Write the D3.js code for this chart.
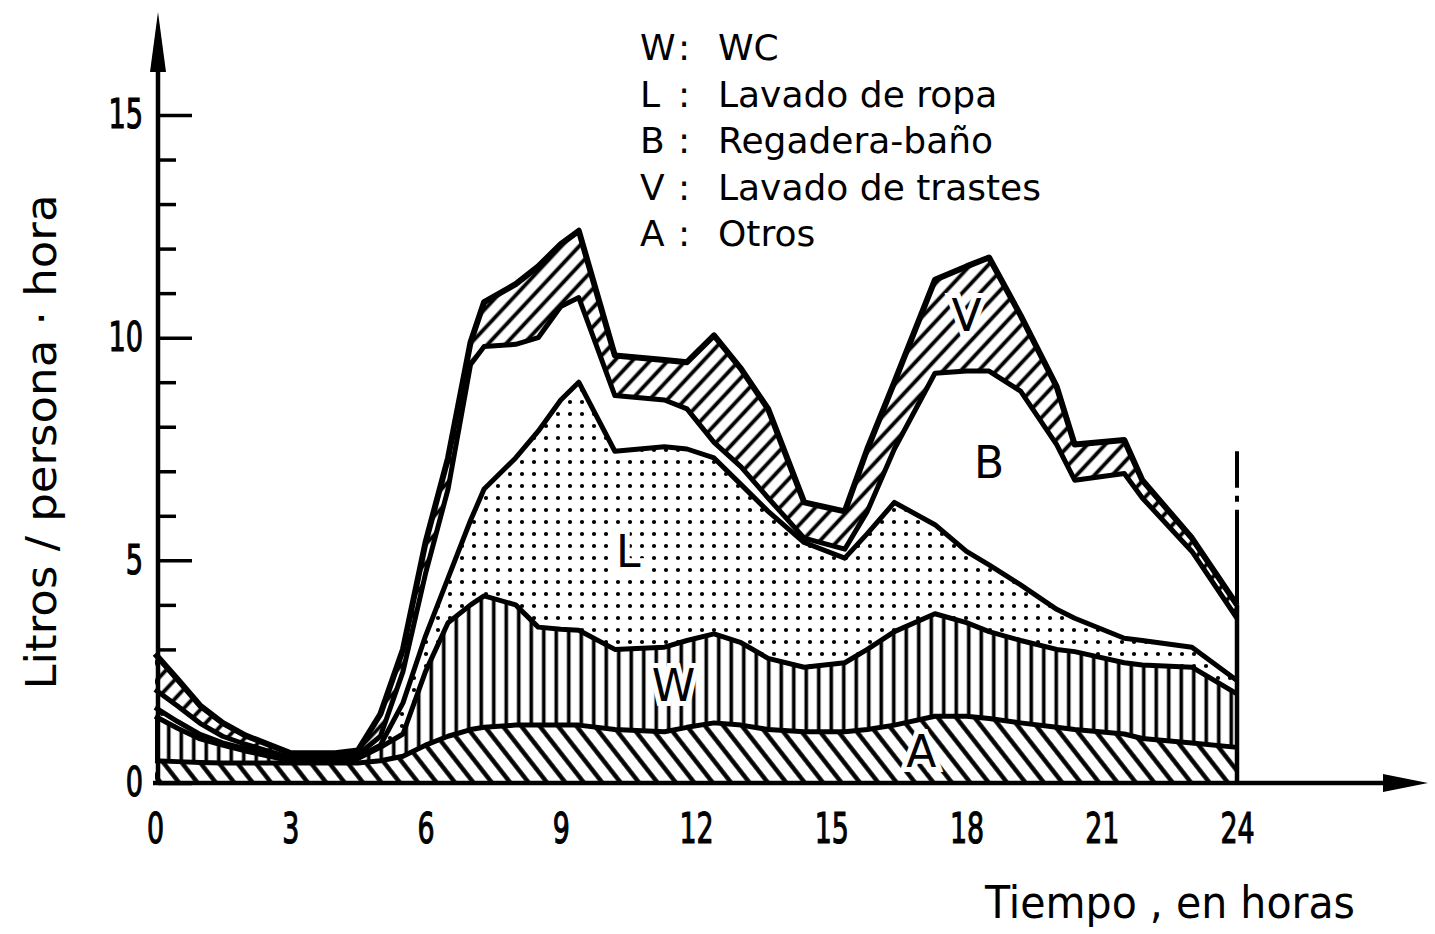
<!DOCTYPE html>
<html>
<head>
<meta charset="utf-8">
<script src="https://cdn.jsdelivr.net/npm/d3@7"></script>
<style>
body{margin:0;background:#fff}
text{font-family:"DejaVu Sans",sans-serif;fill:#000}
</style>
</head>
<body>
<svg width="1435" height="934"></svg>
<script>
/* horas */
const hours = [0,0.5,1,1.5,2,3,4,4.5,5,5.5,6,6.5,7,7.3,8,8.5,9,9.4,10.2,11.3,11.8,12.4,13,13.6,14.4,15.3,15.8,16.4,17.3,18,18.5,19.2,20,20.4,21.5,21.9,23,24]
/* litros / persona . hora por uso */
const otros   = [.5,.48,.46,.45,.45,.45,.45,.45,.5,.6, .85,1.05,1.2,1.25,1.3, 1.3,1.3,1.3,1.2,1.15, 1.25,1.35,1.3,1.2,1.15, 1.15,1.2,1.3,1.5,1.5, 1.45,1.35,1.25,1.2,1.1, 1.0,.9,.8]
const wc      = [1.0,.75,.53,.4,.27,.05,.05,.1,.3,.5, 1.65,2.55,2.8,2.95,2.7, 2.2,2.15,2.13,1.8,1.9, 1.95,2.0,1.85,1.6,1.45, 1.55,1.8,2.1,2.3,2.1, 1.95,1.85,1.75,1.75,1.6, 1.65,1.7,1.2]
const ropa    = [.2,.15,.1,.05,.05,.03,.03,.03,.05,.7, .8,1.0,1.9,2.4,3.3, 4.4,5.15,5.57,4.45,4.5, 4.3,3.95,3.55,3.3,2.8, 2.35,2.6,2.9,2.0,1.6, 1.5,1.25,.9,.75,.55, .55,.45,.3]
const bano    = [.4,.35,.25,.15,.1,.04,.04,.05,.2,.7, 1.4,2.0,3.5,3.2,2.55, 2.1,2.1,1.9,1.25,1.05, .9,.35,.4,.3,.1, .2,.5,1.2,3.4,4.05, 4.35,4.35,3.7,3.1,3.7, 3.2,2.15,1.4]
const trastes = [.8,.6,.4,.3,.2,.1,.1,.1,.5,.5, .7,.7,.5,1.0,1.35, 1.6,1.4,1.5,.9,.9, 1.05,2.4,2.2,2.0,.8, .85,1.4,1.5,2.1,2.35, 2.55,1.7,1.3,.8,.75, .4,.3,.3]

const xTicks = [0,3,6,9,12,15,18,21,24]
const yLabels = [0,5,10,15]
const legendKeys = ['W','L','B','V','A']
const legendNames = ['WC','Lavado de ropa','Regadera-baño','Lavado de trastes','Otros']

let svg=d3.select('svg'),
width=1435,height=934

let x=d3.scaleLinear().domain([0,24]).range([155,1237])
let y=d3.scaleLinear().domain([0,15]).range([783,115])

/*patterns*/
let defs=svg.append('defs')
function hatch(id,angle,gap,w){
  let p=defs.append('pattern').attr('id',id).attr('patternUnits','userSpaceOnUse')
    .attr('width',gap).attr('height',gap).attr('patternTransform','rotate('+angle+')')
  p.append('rect').attr('width',gap).attr('height',gap).attr('fill','#fff')
  p.append('line').attr('x1',gap/2).attr('x2',gap/2).attr('y1',-1).attr('y2',gap+1)
    .attr('stroke','#000').attr('stroke-width',w)
}
hatch('pA',-38,14.5,4.4)
hatch('pW',0,12.5,3.6)
hatch('pV',43,13,3.8)
let pd=defs.append('pattern').attr('id','pL').attr('patternUnits','userSpaceOnUse')
  .attr('width',12).attr('height',12)
pd.append('rect').attr('width',12).attr('height',12).attr('fill','#fff')
pd.append('circle').attr('cx',6).attr('cy',6).attr('r',2.1).attr('fill','#000')

const fills={A:'url(#pA)',W:'url(#pW)',L:'url(#pL)',B:'#fff',V:'url(#pV)'}

/*y axis ticks (under the data)*/
let yAxis=svg.append('g').attr('transform','translate(158,0)')
  .call(d3.axisLeft(y).tickValues(d3.range(0,16)).tickSizeInner(-20).tickSizeOuter(0).tickPadding(22)
    .tickFormat(d=> yLabels.includes(d)? d : ''))
yAxis.select('.domain').remove()
yAxis.selectAll('line').attr('x2',d=> yLabels.includes(d)? 34 : 18).attr('stroke','#000').attr('stroke-width',3.5)
yAxis.selectAll('text').attr('font-size',40).attr('transform','scale(0.68,1)')
  .attr('stroke','#000').attr('stroke-width',1.2)

/*stacked data*/
let rows=hours.map((h,i)=>({h:h,A:otros[i],W:wc[i],L:ropa[i],B:bano[i],V:trastes[i]}))
let series=d3.stack().keys(['A','W','L','B','V'])(rows)

let area=d3.area().x(d=>x(d.data.h)).y0(d=>y(d[0])).y1(d=>y(d[1]))
let topLine=d3.line().x(d=>x(d.data.h)).y(d=>y(d[1]))

svg.append('g').selectAll('path').data(series).enter().append('path')
  .attr('d',area).attr('fill',d=>fills[d.key])

svg.append('g').selectAll('path').data(series).enter().append('path')
  .attr('d',topLine).attr('fill','none').attr('stroke','#000')
  .attr('stroke-width',d=> d.key=='V'? 6 : 5).attr('stroke-linejoin','round')

/*right edge at 24 h*/
let last=series[series.length-1][hours.length-1][1]
svg.append('line').attr('x1',x(24)).attr('x2',x(24)).attr('y1',y(0)).attr('y2',y(last))
  .attr('stroke','#000').attr('stroke-width',4.5)
svg.append('line').attr('x1',x(24)).attr('x2',x(24)).attr('y1',y(last)).attr('y2',y(7.45))
  .attr('stroke','#000').attr('stroke-width',4).attr('stroke-dasharray','95,8,6,8')

/*labels inside the areas*/
const inLabels=[['V',18,10.5],['B',18.5,7.2],['L',10.5,5.2],['W',11.5,2.2],['A',17,0.7]]
svg.append('g').selectAll('text').data(inLabels).enter().append('text')
  .attr('x',d=>x(d[1])).attr('y',d=>y(d[2])).attr('text-anchor','middle')
  .attr('dominant-baseline','central').attr('font-size',44)
  .attr('stroke','#fff').attr('stroke-width',10).attr('paint-order','stroke')
  .text(d=>d[0])

/*axis lines with arrows*/
svg.append('line').attr('x1',158).attr('x2',158).attr('y1',785).attr('y2',60)
  .attr('stroke','#000').attr('stroke-width',4.5)
svg.append('path').attr('d','M158,12L150,72L166,72Z').attr('fill','#000')
svg.append('line').attr('x1',153).attr('x2',1390).attr('y1',783).attr('y2',783)
  .attr('stroke','#000').attr('stroke-width',4.5)
svg.append('path').attr('d','M1428,783L1383,774L1383,792Z').attr('fill','#000')

/*x axis labels*/
let xAxis=svg.append('g').attr('transform','translate(0,783)')
  .call(d3.axisBottom(x).tickValues(xTicks).tickSize(0).tickPadding(30))
xAxis.select('.domain').remove()
xAxis.selectAll('text').attr('font-size',42).attr('transform','scale(0.64,1)')
  .attr('stroke','#000').attr('stroke-width',1.2)

/*titles*/
svg.append('text').attr('transform','translate(56,442) rotate(-90)').attr('text-anchor','middle')
  .attr('font-size',42).attr('textLength',495).attr('lengthAdjust','spacingAndGlyphs')
  .text('Litros / persona · hora')
svg.append('text').attr('x',985).attr('y',918).attr('font-size',44)
  .attr('textLength',370).attr('lengthAdjust','spacingAndGlyphs')
  .text('Tiempo , en horas')

/*legend*/
let legend=svg.append('g').attr('class','key')
legendKeys.forEach((k,i)=>{
  let yy=60+i*46.5
  legend.append('text').attr('x',640).attr('y',yy).attr('font-size',36).text(k)
  legend.append('text').attr('x',678).attr('y',yy).attr('font-size',36).text(':')
  legend.append('text').attr('x',718).attr('y',yy).attr('font-size',36).text(legendNames[i])
})
</script>
</body>
</html>
